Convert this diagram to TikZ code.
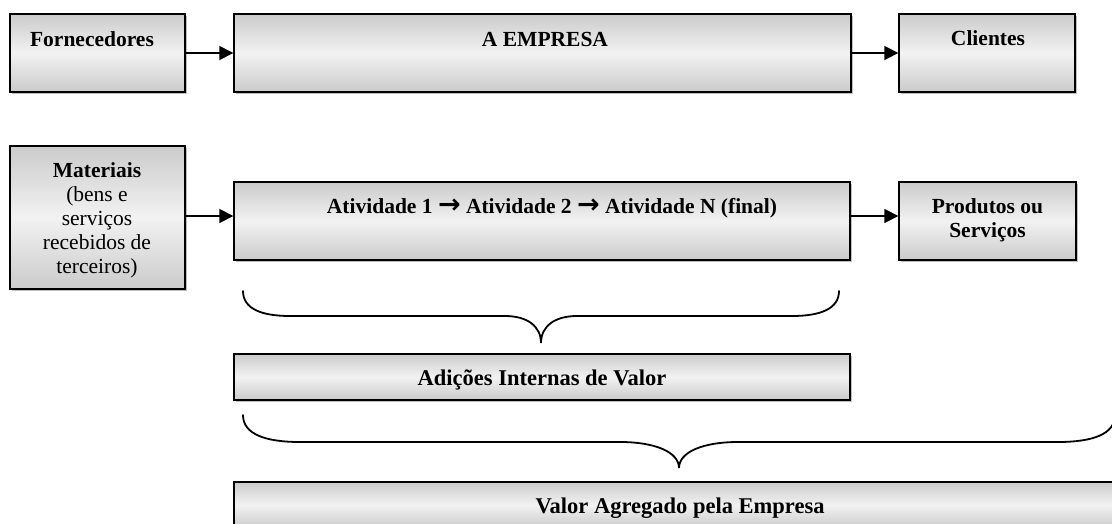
\documentclass[tikz,border=0pt]{standalone}
\usepackage{fontspec}
\setmainfont{Liberation Serif}
\newfontfamily\arrowfont{DejaVu Sans}
\usetikzlibrary{arrows.meta,shadows}
\definecolor{boxedge}{HTML}{CBCBCB}
\definecolor{boxmid}{HTML}{F2F2F2}
\begin{document}
\begin{tikzpicture}[x=1pt,y=-1pt,
  box/.style={draw=black, line width=1.4pt, top color=boxedge, bottom color=boxedge,
    middle color=boxmid, inner sep=0pt,
    drop shadow={shadow xshift=1.5pt, shadow yshift=-1.5pt, fill=black, opacity=0.25}},
  txt/.style={font=\bfseries\fontsize{21.5}{24}\selectfont, inner sep=0pt, align=center},
  bigtxt/.style={font=\bfseries\fontsize{22.5}{24}\selectfont, inner sep=0pt, align=center},
  arr/.style={line width=1.8pt, -{Triangle[length=14pt,width=14pt]}},
  bracepath/.style={line width=1.8pt, line cap=round}]
\useasboundingbox (0,0) rectangle (1112,523);
\clip (0,0) rectangle (1112,523);

% boxes
\node[box, minimum width=175pt, minimum height=78pt] (forn) at (97.5,53) {};
\node[box, minimum width=617pt, minimum height=78pt] (emp) at (542.5,53) {};
\node[box, minimum width=176pt, minimum height=78pt] (cli) at (987,53) {};
\node[box, minimum width=175pt, minimum height=143pt] (mat) at (97.5,217.5) {};
\node[box, minimum width=616pt, minimum height=78pt] (ativ) at (542,221) {};
\node[box, minimum width=177pt, minimum height=78pt] (prod) at (987.5,221) {};
\node[box, minimum width=616pt, minimum height=46pt] (adi) at (542,377) {};
\node[box, minimum width=892pt, minimum height=46pt] (val) at (680,505) {};

% texts
\node[txt, anchor=base] (forn-t) at (92,46) {Fornecedores};
\node[txt, anchor=base] (emp-t) at (545,46) {A EMPRESA};
\node[txt, anchor=base] (cli-t) at (988,45) {Clientes};
\node[txt, anchor=north] (mat-t) at (97,162) {\rule{0pt}{15pt}Materiais\\ \mdseries (bens e\\ \mdseries serviços\\ \mdseries recebidos de\\ \mdseries terceiros)};
\node[txt, anchor=base] (ativ-t) at (552,213) {Atividade 1 {\arrowfont\fontsize{27}{24}\selectfont →} Atividade 2 {\arrowfont\fontsize{27}{24}\selectfont →} Atividade N (final)};
\node[txt, anchor=north] (prod-t) at (987.5,198) {\rule{0pt}{15pt}Produtos ou\\Serviços};
\node[bigtxt, anchor=base] (adi-t) at (542,385) {Adições Internas de Valor};
\node[bigtxt, anchor=base] (val-t) at (680,513) {Valor Agregado pela Empresa};

% arrows
\draw[arr] (forn.east) -- (emp.west);
\draw[arr] (emp.east) -- (cli.west);
\draw[arr] ([yshift=1.5pt]mat.east) -- ([yshift=1.5pt]mat.east -| ativ.west);
\draw[arr] ([yshift=5pt]ativ.east) -- ([yshift=5pt]ativ.east -| prod.west);

% braces
\draw[bracepath] (243,291) .. controls (243,309) and (262,316) .. (290,316) -- (505,316)
  .. controls (527,316) and (541,326) .. (541,343)
  .. controls (541,326) and (555,316) .. (577,316) -- (792,316)
  .. controls (820,316) and (839,309) .. (839,291);
\draw[bracepath] (243,415) .. controls (243,434) and (265,442) .. (300,442) -- (620,442)
  .. controls (655,442) and (679,452) .. (679,468)
  .. controls (679,452) and (703,442) .. (738,442) -- (1058,442)
  .. controls (1093,442) and (1115,434) .. (1115,415);
\end{tikzpicture}
\end{document}
